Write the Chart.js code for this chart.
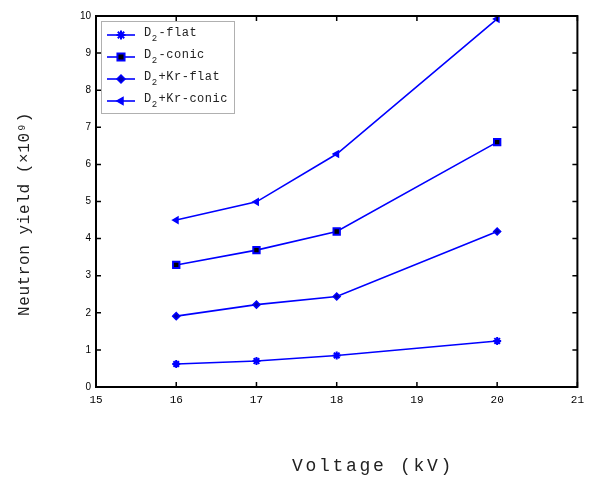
<!DOCTYPE html>
<html>
<head>
<meta charset="utf-8">
<script src="https://cdn.jsdelivr.net/npm/chart.js@4/dist/chart.umd.min.js"></script>
<style>
  html, body { margin: 0; padding: 0; background: #fff; }
  #wrap { width: 590px; height: 477px; }
</style>
</head>
<body>
<div id="wrap"><canvas id="out" width="590" height="477"></canvas></div>
<script>
// data
const voltages = [16, 17, 18, 20];
const seriesNames = ["D₂-flat", "D₂-conic", "D₂+Kr-flat", "D₂+Kr-conic"];
const yieldFlat = [0.62, 0.70, 0.85, 1.24];
const yieldConic = [3.29, 3.69, 4.19, 6.60];
const yieldKrFlat = [1.91, 2.22, 2.44, 4.19];
const yieldKrConic = [4.50, 4.99, 6.28, 9.92];
const xTitle = "Voltage (kV)";
const yTitle = "Neutron yield (×10⁹)";

const blue = "#0000ff";
const mono = "'Liberation Mono', 'DejaVu Sans Mono', monospace";

function pts(vals) {
  return vals.map((v, i) => ({ x: voltages[i], y: v }));
}

const datasets = [
  { label: seriesNames[0], data: pts(yieldFlat), pointStyle: "star", pointRadius: 4,
    pointBackgroundColor: blue, pointBorderColor: blue, pointBorderWidth: 2 },
  { label: seriesNames[1], data: pts(yieldConic), pointStyle: "rect", pointRadius: 4.5,
    pointBackgroundColor: "#000", pointBorderColor: blue, pointBorderWidth: 2 },
  { label: seriesNames[2], data: pts(yieldKrFlat), pointStyle: "rectRot", pointRadius: 3.5,
    pointBackgroundColor: "#0000b0", pointBorderColor: blue, pointBorderWidth: 1.5 },
  { label: seriesNames[3], data: pts(yieldKrConic), pointStyle: "triangle", pointRadius: 3.5,
    rotation: -90, pointBackgroundColor: blue, pointBorderColor: blue, pointBorderWidth: 1.5 }
].map(d => Object.assign({ borderColor: blue, borderWidth: 1.6, showLine: true, fill: false, tension: 0 }, d));

// box, inward ticks, titles and legend
const decor = {
  id: "decor",
  afterDraw(chart) {
    const ctx = chart.ctx;
    const a = chart.chartArea;
    const xs = chart.scales.x, ys = chart.scales.y;
    ctx.save();
    ctx.strokeStyle = "#000";
    ctx.lineWidth = 1.5;
    xs.ticks.forEach(t => {
      const px = xs.getPixelForValue(t.value);
      ctx.beginPath();
      ctx.moveTo(px, a.bottom); ctx.lineTo(px, a.bottom - 5);
      ctx.moveTo(px, a.top); ctx.lineTo(px, a.top + 5);
      ctx.stroke();
    });
    ys.ticks.forEach(t => {
      const py = ys.getPixelForValue(t.value);
      ctx.beginPath();
      ctx.moveTo(a.left, py); ctx.lineTo(a.left + 5, py);
      ctx.moveTo(a.right, py); ctx.lineTo(a.right - 5, py);
      ctx.stroke();
    });
    ctx.lineWidth = 2;
    ctx.strokeRect(a.left, a.top, a.right - a.left, a.bottom - a.top);

    // axis titles
    ctx.fillStyle = "#222";
    ctx.textAlign = "center";
    ctx.textBaseline = "middle";
    ctx.font = "18px " + mono;
    ctx.letterSpacing = "2.7px";
    ctx.fillText(xTitle, 373, 466);
    ctx.save();
    ctx.font = "16px " + mono;
    ctx.letterSpacing = "0.6px";
    ctx.translate(25, 214);
    ctx.rotate(-Math.PI / 2);
    ctx.fillText(yTitle, 0, 0);
    ctx.restore();
    ctx.letterSpacing = "0px";

    // legend
    const lx = 101, ly = 21, lw = 133, lh = 92;
    ctx.fillStyle = "#fff";
    ctx.fillRect(lx, ly, lw, lh);
    ctx.strokeStyle = "#b0b0b0";
    ctx.lineWidth = 1;
    ctx.strokeRect(lx + 0.5, ly + 0.5, lw, lh);
    chart.data.datasets.forEach((d, i) => {
      const y = ly + 14 + i * 22;
      ctx.strokeStyle = blue;
      ctx.lineWidth = 1.6;
      ctx.beginPath();
      ctx.moveTo(lx + 6, y); ctx.lineTo(lx + 34, y);
      ctx.stroke();
      ctx.fillStyle = d.pointBackgroundColor;
      ctx.strokeStyle = d.pointBorderColor;
      ctx.lineWidth = d.pointBorderWidth;
      Chart.helpers.drawPoint(ctx, {
        pointStyle: d.pointStyle, radius: d.pointRadius + 0.5,
        rotation: d.rotation || 0, borderWidth: d.pointBorderWidth
      }, lx + 20, y);
      // label with subscript 2
      const parts = d.label.split("₂");
      let tx = lx + 43;
      ctx.fillStyle = "#222";
      ctx.textAlign = "left";
      ctx.textBaseline = "middle";
      ctx.letterSpacing = "0.5px";
      ctx.font = "12px " + mono;
      ctx.fillText(parts[0], tx, y - 2);
      tx += ctx.measureText(parts[0]).width;
      ctx.font = "9px " + mono;
      ctx.fillText("2", tx, y + 4);
      tx += ctx.measureText("2").width + 1;
      ctx.font = "12px " + mono;
      ctx.fillText(parts[1], tx, y - 2);
      ctx.letterSpacing = "0px";
    });
    ctx.restore();
  }
};

new Chart(document.getElementById("out").getContext("2d"), {
  type: "scatter",
  data: { datasets: datasets },
  options: {
    responsive: false,
    animation: false,
    layout: { padding: { left: 0, top: 16, right: 7, bottom: 0 } },
    plugins: { legend: { display: false }, tooltip: { enabled: false } },
    scales: {
      x: {
        type: "linear", min: 15, max: 21,
        ticks: { stepSize: 1, color: "#000", padding: 6, font: { family: mono, size: 11 } },
        grid: { drawOnChartArea: false, drawTicks: false },
        border: { display: false },
        afterFit(s) { s.height = 90; }
      },
      y: {
        type: "linear", min: 0, max: 10,
        ticks: { stepSize: 1, color: "#000", padding: 5, font: { family: "'Liberation Sans', Arial, sans-serif", size: 10 } },
        grid: { drawOnChartArea: false, drawTicks: false },
        border: { display: false },
        afterFit(s) { s.width = 96; }
      }
    }
  },
  plugins: [decor]
});
</script>
</body>
</html>
